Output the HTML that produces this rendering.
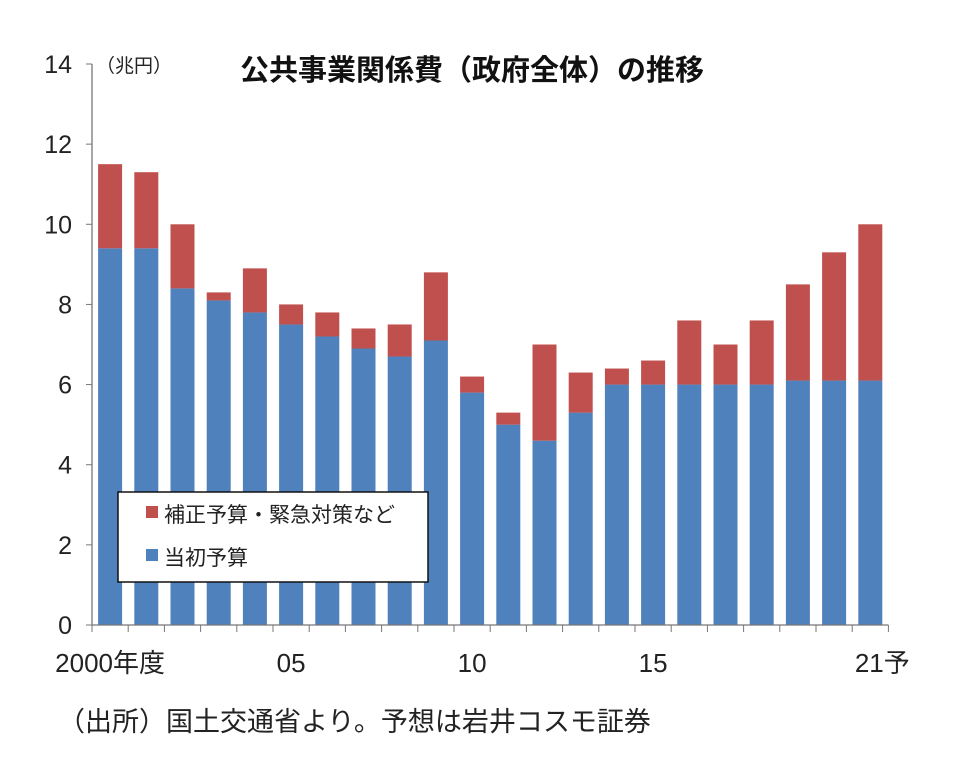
<!DOCTYPE html>
<html><head><meta charset="utf-8"><style>
body{margin:0;background:#fff;}
svg{display:block;font-family:"Liberation Sans","Noto Sans CJK JP",sans-serif;}
</style></head><body>
<svg id="chart" width="960" height="775">
<text x="240" y="80" font-size="29" font-weight="bold" fill="#111">公共事業関係費（政府全体）の推移</text>
<text x="96" y="72" font-size="19" fill="#222">（兆円）</text>
<text x="58" y="731" font-size="27" fill="#222">（出所）国土交通省より。予想は岩井コスモ証券</text>
</svg>
<script>
const categories=["2000","01","02","03","04","05","06","07","08","09","10","11","12","13","14","15","16","17","18","19","20","21"];
const initialBudget=[9.4,9.4,8.4,8.1,7.8,7.5,7.2,6.9,6.7,7.1,5.8,5.0,4.6,5.3,6.0,6.0,6.0,6.0,6.0,6.1,6.1,6.1];
const supplementary=[2.1,1.9,1.6,0.2,1.1,0.5,0.6,0.5,0.8,1.7,0.4,0.3,2.4,1.0,0.4,0.6,1.6,1.0,1.6,2.4,3.2,3.9];
const yTicks=[0,2,4,6,8,10,12,14];
const xLabels=[[0,"2000年度"],[5,"05"],[10,"10"],[15,"15"],[21,"21予"]];
const NS="http://www.w3.org/2000/svg";
const svg=document.getElementById('chart');
const x0=92,y0=625,yTop=64,step=36.2,bw=24;
const yScale=v=>y0-(v/14)*(y0-yTop);
const xC=i=>x0+step*(i+0.5);
function mk(tag,attrs){const e=document.createElementNS(NS,tag);for(const k in attrs)e.setAttribute(k,attrs[k]);svg.appendChild(e);return e;}
categories.forEach((c,i)=>{
  const b=mk('rect',{x:xC(i)-bw/2,y:yScale(initialBudget[i]),width:bw,height:y0-yScale(initialBudget[i]),fill:'#4f81bd'});
  
  
  const tot=initialBudget[i]+supplementary[i];
  const s=mk('rect',{x:xC(i)-bw/2,y:yScale(tot),width:bw,height:yScale(initialBudget[i])-yScale(tot),fill:'#c0504d'});
  
  
});
const ya=mk('line',{x1:x0,y1:yTop,x2:x0,y2:y0,stroke:'#777','stroke-width':1.3});


const xa=mk('line',{x1:x0,y1:y0,x2:x0+step*categories.length,y2:y0,stroke:'#777','stroke-width':1.3});


yTicks.forEach(v=>{
  mk('line',{x1:x0-6,y1:yScale(v),x2:x0,y2:yScale(v),stroke:'#777'});
  const t=mk('text',{x:72,y:yScale(v)+9,'font-size':25,'text-anchor':'end',fill:'#222'});
  t.textContent=v;
  
  
});
for(let i=0;i<=categories.length;i++)mk('line',{x1:x0+step*i,y1:y0,x2:x0+step*i,y2:y0+7,stroke:'#777'});
xLabels.forEach(([i,l])=>{
  const t=mk('text',{x:xC(i),y:672,'font-size':26,'text-anchor':'middle',fill:'#222'});
  if(i==0)t.setAttribute('x',xC(0));
  if(i==21)t.setAttribute('x',xC(i)+12);
  t.textContent=l;
  
  
});
const lg=mk('rect',{x:118,y:492,width:310,height:90,fill:'#fff',stroke:'#111','stroke-width':1.5});


[['#c0504d','補正予算・緊急対策など',522],['#4f81bd','当初予算',565]].forEach(([c,l,y],k)=>{
  mk('rect',{x:146,y:y-16,width:12,height:12,fill:c});
  const t=mk('text',{x:164,y:y,'font-size':21,fill:'#222'});
  t.textContent=l;
  
  
});
</script>
</body></html>
